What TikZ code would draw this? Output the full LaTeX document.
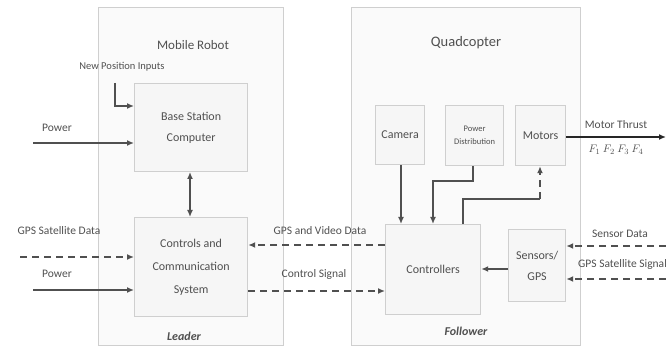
\documentclass[tikz,border=0pt]{standalone}
\usepackage{fontspec}
\setmainfont{Carlito}
\usetikzlibrary{arrows.meta}
\definecolor{boxline}{HTML}{CFCFCF}
\definecolor{boxfill}{HTML}{F6F6F6}
\definecolor{outerfill}{HTML}{FAFAFA}
\definecolor{lin}{HTML}{505050}
\definecolor{txt}{HTML}{505050}
\tikzset{
  outerbox/.style={draw=boxline, fill=outerfill, line width=1.2pt},
  innerbox/.style={draw=boxline, fill=boxfill, line width=1.2pt},
  intxt/.style={text=txt, align=center, font=\fontsize{12}{21}\selectfont},
  lbl/.style={text=txt, font=\fontsize{11.5}{13}\selectfont, inner sep=0pt},
  arr/.style={draw=lin, line width=1.4pt, -{Latex[length=7pt,width=6pt]}},
  darr/.style={arr, dash pattern=on 7pt off 5pt},
}
\begin{document}
\begin{tikzpicture}[x=1pt,y=-1pt]
\useasboundingbox (0,0) rectangle (666,347);
% outer boxes
\node[outerbox, minimum width=185pt, minimum height=338pt, anchor=north west] (leaderbox) at (98,7) {};
\node[outerbox, minimum width=229pt, minimum height=338pt, anchor=north west] (followerbox) at (351,7) {};
\node[text=txt, font=\fontsize{13}{15}\selectfont] (mr) at (193,45) {Mobile Robot};
\node[text=txt, font=\fontsize{14.5}{16}\selectfont] (qc) at (466,43) {Quadcopter};
\node[text=txt, font=\bfseries\itshape\fontsize{12}{14}\selectfont] (leader) at (184,336) {Leader};
\node[text=txt, font=\bfseries\itshape\fontsize{12}{14}\selectfont] (follower) at (466,331) {Follower};
% inner boxes leader
\node[innerbox, minimum width=113pt, minimum height=88pt, anchor=north west] (bsc) at (134,83) {};
\node[intxt] at (bsc.center) {Base Station\\Computer};
\node[innerbox, minimum width=113pt, minimum height=99pt, anchor=north west] (ccs) at (134,217) {};
\node[intxt, font=\fontsize{12}{23}\selectfont] at (ccs.center) {Controls and\\Communication\\System};
% inner boxes follower
\node[innerbox, minimum width=49pt, minimum height=59pt, anchor=north west] (cam) at (375,105) {};
\node[intxt] at (cam.center) {Camera};
\node[innerbox, minimum width=58pt, minimum height=60pt, anchor=north west] (pd) at (445,105) {};
\node[intxt, font=\fontsize{8.5}{13}\selectfont] at (pd.center) {Power\\Distribution};
\node[innerbox, minimum width=50pt, minimum height=60pt, anchor=north west] (mot) at (515,105) {};
\node[intxt] at (mot.center) {Motors};
\node[innerbox, minimum width=95pt, minimum height=90pt, anchor=north west] (ctl) at (385,224) {};
\node[intxt] at (ctl.center) {Controllers};
\node[innerbox, minimum width=57pt, minimum height=72pt, anchor=north west] (sen) at (508,229) {};
\node[intxt] at (sen.center) {Sensors/\\GPS};
% labels
\node[lbl, font=\fontsize{10.5}{12}\selectfont] (npi) at (122,67) {New Position Inputs};
\node[lbl] (pw1) at (57,128) {Power};
\node[lbl] (gpsd) at (59,231) {GPS Satellite Data};
\node[lbl] (pw2) at (57,274) {Power};
\node[lbl] (gvd) at (320,231) {GPS and Video Data};
\node[lbl] (cs) at (314,274) {Control Signal};
\node[lbl] (mt) at (616,125) {Motor Thrust};
\node[lbl, font=\fontsize{11}{13}\selectfont] (ff) at (616,150) {$F_1\ F_2\ F_3\ F_4$};
\node[lbl] (sd) at (620,234) {Sensor Data};
\node[lbl, anchor=west] (gss) at (578,264) {GPS Satellite Signal};
% coordinates
\coordinate (npiA) at (115,83);
\coordinate (pw1A) at (33,143);
\coordinate (gpsA) at (20,257);
\coordinate (pw2A) at (33,290);
\coordinate (mtA) at (666,137);
\coordinate (sdA) at (666,246);
\coordinate (gssA) at (666,279);
% leader arrows
\draw[arr] (npiA) -- (115,106) -- (bsc.west |- 0,106);
\draw[arr] (pw1A) -- (bsc.west |- pw1A);
\draw[draw=lin, line width=1.4pt, {Latex[length=7pt,width=6pt]}-{Latex[length=7pt,width=6pt]}] (190,172) -- (190,217);
\draw[darr] (gpsA) -- (ccs.west |- gpsA);
\draw[arr] (pw2A) -- (ccs.west |- pw2A);
% between
\draw[darr] (ctl.west |- 0,245) -- (ccs.east |- 0,245);
\draw[darr] (ccs.east |- 0,291) -- (ctl.west |- 0,291);
% follower arrows
\draw[arr] (cam.south -| 401,0) -- (ctl.north -| 401,0);
\draw[arr] (pd.south -| 473,0) -- (473,181) -- (433,181) -- (ctl.north -| 433,0);
\draw[draw=lin, line width=1.4pt] (ctl.north -| 463,0) -- (463,199) -- (540,199);
\draw[darr] (540,199) -- (mot.south -| 540,0);
\draw[draw=black!85, line width=2pt, -{Latex[length=7pt,width=6pt]}] (mot.east |- mtA) -- (mtA);
\draw[arr] (sen.west |- 0,269) -- (ctl.east |- 0,269);
\draw[darr] (sdA) -- (sen.east |- sdA);
\draw[darr] (gssA) -- (sen.east |- gssA);
\end{tikzpicture}
\end{document}
